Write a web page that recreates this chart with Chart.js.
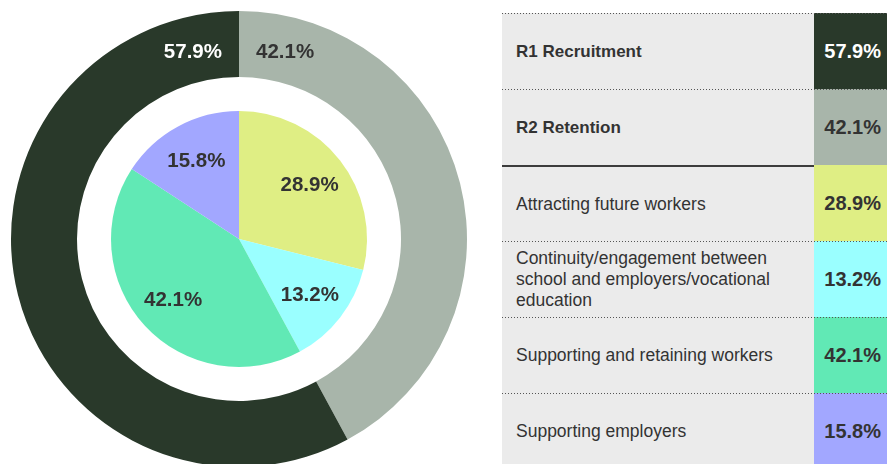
<!DOCTYPE html>
<html>
<head>
<meta charset="utf-8">
<script src="https://cdn.jsdelivr.net/npm/chart.js@4/dist/chart.umd.min.js"></script>
<style>
  html, body { margin: 0; padding: 0; background: #fff; }
  body { width: 887px; height: 464px; overflow: hidden; position: relative;
         font-family: "Liberation Sans", Arial, Helvetica, sans-serif; color: #333; }
  #pieBox { position: absolute; left: 0; top: 0; width: 478px; height: 478px; }
  #table { position: absolute; left: 502px; top: 13px; width: 385px; }
  .row { position: relative; display: flex; height: 76px; }
  .row::before { content: ""; position: absolute; left: 0; right: 0; top: 0; height: 1px;
                 background: repeating-linear-gradient(to right, #555 0 1px, transparent 1px 3px); }
  .row.group::before { display: none; }
  .row.group .name { border-top: 2px solid #3c3c3c; }
  .name { flex: 1; background: #ebebeb; display: flex; align-items: center;
          padding: 0 10px 0 14px; font-size: 17.5px; line-height: 21px; box-sizing: border-box; }
  .name.bold { font-weight: bold; font-size: 17px; }
  .val { width: 73px; display: flex; align-items: center; justify-content: flex-end;
         padding-right: 6px; box-sizing: border-box; font-weight: bold; font-size: 20px; }
</style>
</head>
<body>
<div id="pieBox"><canvas id="pieChart"></canvas></div>
<div id="table"></div>
<script>
// outer ring: the two strands
const ringLabels = ["R1 Recruitment", "R2 Retention"];
const ringValues = [57.9, 42.1];
const ringColors = ["#29392a", "#a8b5aa"];
const ringTextColors = ["#ffffff", "#333333"];

// inner pie: themes
const themeLabels = [
  "Attracting future workers",
  "Continuity/engagement between school and employers/vocational education",
  "Supporting and retaining workers",
  "Supporting employers"
];
const themeValues = [28.9, 13.2, 42.1, 15.8];
const themeColors = ["#dfee84", "#9affff", "#61e9b5", "#a2a7ff"];

const pct = v => v.toFixed(1) + "%";

// table on the right
const table = document.getElementById("table");
function addRow(label, value, color, textColor, bold, group) {
  const row = document.createElement("div");
  row.className = "row" + (group ? " group" : "");
  const name = document.createElement("div");
  name.className = "name" + (bold ? " bold" : "");
  name.textContent = label;
  const val = document.createElement("div");
  val.className = "val";
  val.style.background = color;
  val.style.color = textColor;
  val.textContent = pct(value);
  row.appendChild(name);
  row.appendChild(val);
  table.appendChild(row);
}
ringLabels.forEach((l, i) => addRow(l, ringValues[i], ringColors[i], ringTextColors[i], true, false));
themeLabels.forEach((l, i) => addRow(l, themeValues[i], themeColors[i], "#333333", false, i === 0));

// ring runs clockwise from 12 o'clock starting with retention
const ringOrder = [1, 0];

const pctLabels = {
  id: "pctLabels",
  afterDatasetsDraw(chart) {
    const ctx = chart.ctx;
    ctx.save();
    ctx.font = 'bold 20.5px "Liberation Sans", Arial, sans-serif';
    ctx.textBaseline = "middle";

    chart.getDatasetMeta(0).data.forEach((arc, i) => {
      const p = arc.getProps(["x", "y", "startAngle", "innerRadius", "outerRadius"], true);
      const k = ringOrder[i];
      const atStart = Math.abs(p.startAngle + Math.PI / 2) < 1e-6;
      ctx.textAlign = atStart ? "left" : "right";
      ctx.fillStyle = ringTextColors[k];
      const ly = p.y - (p.innerRadius + p.outerRadius) / 2 + 8;
      ctx.fillText(pct(ringValues[k]), p.x + (atStart ? 17 : -17), ly);
    });

    ctx.textAlign = "center";
    ctx.fillStyle = "#333333";
    chart.getDatasetMeta(2).data.forEach((arc, i) => {
      const p = arc.getProps(["x", "y", "startAngle", "endAngle", "outerRadius"], true);
      const mid = (p.startAngle + p.endAngle) / 2;
      const r = p.outerRadius * 0.7;
      ctx.fillText(pct(themeValues[i]), p.x + Math.cos(mid) * r, p.y + Math.sin(mid) * r + 1);
    });
    ctx.restore();
  }
};

new Chart(document.getElementById("pieChart"), {
  type: "doughnut",
  data: {
    labels: themeLabels,
    datasets: [
      {
        data: ringOrder.map(k => ringValues[k]),
        backgroundColor: ringOrder.map(k => ringColors[k]),
        borderWidth: 0,
        weight: 66
      },
      {
        data: [1],
        backgroundColor: "rgba(0,0,0,0)",
        borderWidth: 0,
        weight: 34
      },
      {
        data: themeValues,
        backgroundColor: themeColors,
        borderWidth: 0,
        weight: 128
      }
    ]
  },
  options: {
    responsive: true,
    maintainAspectRatio: false,
    animation: false,
    cutout: 0,
    layout: { padding: 11 },
    events: [],
    plugins: {
      legend: { display: false },
      tooltip: { enabled: false }
    }
  },
  plugins: [pctLabels]
});
</script>
</body>
</html>
